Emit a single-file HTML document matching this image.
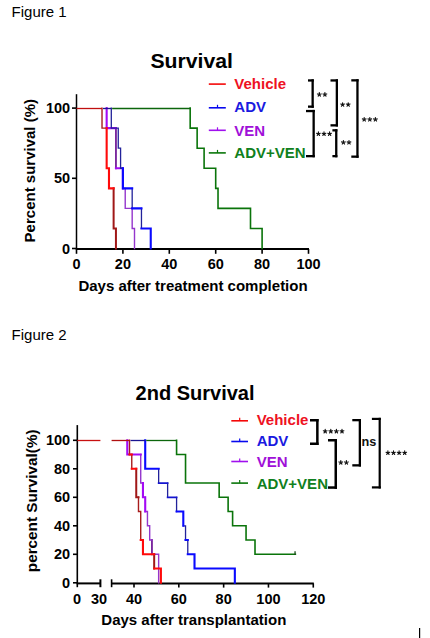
<!DOCTYPE html>
<html><head><meta charset="utf-8"><style>
html,body{margin:0;padding:0;background:#fff;}
svg{display:block;font-family:"Liberation Sans", sans-serif;}
</style></head><body>
<svg width="430" height="638" viewBox="0 0 430 638">
<rect width="430" height="638" fill="#fff"/>
<text x="11.60" y="16.80" font-size="15" font-weight="normal" fill="#000" text-anchor="start" >Figure 1</text>
<text x="150.40" y="67.70" font-size="20" font-weight="bold" fill="#000" text-anchor="start" textLength="82.5" lengthAdjust="spacingAndGlyphs">Survival</text>
<g stroke="#000" stroke-width="1.6" fill="none">
<path d="M76.5 94.2 V248.5" stroke-width="1.5"/>
<path d="M75.8 249 H309" stroke-width="2"/>
<path d="M72 248.50 H76.5"/>
<path d="M72 178.30 H76.5"/>
<path d="M72 108.10 H76.5"/>
<path d="M76.50 249 V253.8"/>
<path d="M122.90 249 V253.8"/>
<path d="M169.30 249 V253.8"/>
<path d="M215.70 249 V253.8"/>
<path d="M262.10 249 V253.8"/>
<path d="M308.50 249 V253.8"/>
</g>
<text x="70.20" y="253.60" font-size="14.5" font-weight="bold" fill="#000" text-anchor="end" >0</text>
<text x="70.20" y="183.40" font-size="14.5" font-weight="bold" fill="#000" text-anchor="end" >50</text>
<text x="70.20" y="113.20" font-size="14.5" font-weight="bold" fill="#000" text-anchor="end" >100</text>
<text x="76.50" y="268.80" font-size="14.5" font-weight="bold" fill="#000" text-anchor="middle" >0</text>
<text x="122.90" y="268.80" font-size="14.5" font-weight="bold" fill="#000" text-anchor="middle" >20</text>
<text x="169.30" y="268.80" font-size="14.5" font-weight="bold" fill="#000" text-anchor="middle" >40</text>
<text x="215.70" y="268.80" font-size="14.5" font-weight="bold" fill="#000" text-anchor="middle" >60</text>
<text x="262.10" y="268.80" font-size="14.5" font-weight="bold" fill="#000" text-anchor="middle" >80</text>
<text x="308.50" y="268.80" font-size="14.5" font-weight="bold" fill="#000" text-anchor="middle" >100</text>
<text x="78.40" y="290.80" font-size="15" font-weight="bold" fill="#000" text-anchor="start" >Days after treatment completion</text>
<text transform="translate(35.2 242.4) rotate(-90)" font-size="15" font-weight="bold" fill="#000">Percent survival (%)</text>
<g fill="none" stroke-width="1.8" stroke-linejoin="miter" stroke-linecap="square">
<path d="M190.18 108.10V128.16M190.18 128.16H197.14M197.14 128.16V148.21M197.14 148.21H204.10M204.10 148.21V168.27M204.10 168.27H215.70M215.70 168.27V188.33M215.70 188.33H218.02M218.02 188.33V208.39M218.02 208.39H250.50M250.50 208.39V228.44M250.50 228.44H262.10M262.10 228.44V248.50" stroke="#0a740a" stroke-width="1.60" fill="none" stroke-linecap="square"/>
<path d="M115.94 128.16V168.27" stroke="#7a289e" stroke-width="1.90" fill="none" stroke-linecap="square"/>
<path d="M122.90 188.33H125.22M125.22 188.33V208.39M125.22 208.39H132.18M132.18 208.39V228.44M132.18 228.44H134.50M134.50 228.44V248.50" stroke="#9436cc" stroke-width="1.40" fill="none" stroke-linecap="square"/>
<path d="M106.66 108.10V128.16M106.66 128.16H115.94M115.94 168.27H122.90M122.90 168.27V188.33" stroke="#a40af5" stroke-width="2.10" fill="none" stroke-linecap="square"/>
<path d="M111.30 108.10V128.16M111.30 128.16H118.26M118.26 128.16V148.21M118.26 148.21H120.58M120.58 148.21V168.27M120.58 168.27H122.90M132.18 188.33V208.39M141.46 208.39V228.44" stroke="#22229a" stroke-width="1.30" fill="none" stroke-linecap="square"/>
<path d="M122.90 168.27V188.33M122.90 188.33H132.18M132.18 208.39H141.46M141.46 228.44H150.74M150.74 228.44V248.50" stroke="#0a0aff" stroke-width="2.10" fill="none" stroke-linecap="square"/>
<path d="M102.02 108.10V128.16M102.02 128.16H106.66" stroke="#a81c1c" stroke-width="1.40" fill="none" stroke-linecap="square"/>
<path d="M113.62 188.33V228.44M113.62 228.44H115.94M115.94 228.44V248.50" stroke="#a01818" stroke-width="2.00" fill="none" stroke-linecap="square"/>
<path d="M106.66 128.16V168.27M106.66 168.27H108.98M108.98 168.27V188.33M108.98 188.33H113.62" stroke="#ff0a0a" stroke-width="2.10" fill="none" stroke-linecap="square"/>
</g>
<g fill="none" stroke-width="1.3">
<path d="M76.50 108.50 H102.02" stroke="#c01010"/>
<path d="M103.02 108.50 H111.30" stroke="#1a1490"/>
<path d="M112.10 108.50 H190.18" stroke="#0c660c"/>
</g>
<path d="M208.8 84.10 H225.8" stroke="#f40808" stroke-width="1.6"/>
<text x="234.30" y="88.80" font-size="15" font-weight="bold" fill="#ee1122" text-anchor="start" >Vehicle</text>
<path d="M208.8 107.80 H225.8" stroke="#0808ee" stroke-width="1.6"/>
<path d="M217.5 104.80 V107.80" stroke="#0808ee" stroke-width="1.2"/>
<text x="234.30" y="111.60" font-size="15" font-weight="bold" fill="#1a1ae0" text-anchor="start" >ADV</text>
<path d="M208.8 130.30 H225.8" stroke="#a010ee" stroke-width="1.6"/>
<path d="M217.5 127.30 V130.30" stroke="#a010ee" stroke-width="1.2"/>
<text x="234.30" y="135.50" font-size="15" font-weight="bold" fill="#a010d8" text-anchor="start" >VEN</text>
<path d="M208.8 152.90 H225.8" stroke="#0a760a" stroke-width="1.6"/>
<path d="M217.5 149.90 V152.90" stroke="#0a760a" stroke-width="1.2"/>
<text x="234.30" y="157.70" font-size="15" font-weight="bold" fill="#108020" text-anchor="start" >ADV+VEN</text>
<rect x="308.00" y="79.30" width="5.80" height="2.30" fill="#000"/>
<rect x="311.50" y="79.30" width="2.30" height="28.50" fill="#000"/>
<rect x="308.00" y="105.50" width="5.80" height="2.30" fill="#000"/>
<rect x="330.50" y="79.30" width="7.50" height="2.30" fill="#000"/>
<rect x="335.70" y="79.30" width="2.30" height="47.20" fill="#000"/>
<rect x="330.50" y="124.20" width="7.50" height="2.30" fill="#000"/>
<rect x="306.00" y="109.90" width="8.80" height="2.30" fill="#000"/>
<rect x="312.50" y="109.90" width="2.30" height="47.40" fill="#000"/>
<rect x="306.00" y="155.00" width="8.80" height="2.30" fill="#000"/>
<rect x="332.40" y="129.20" width="5.00" height="2.30" fill="#000"/>
<rect x="335.10" y="129.20" width="2.30" height="28.10" fill="#000"/>
<rect x="332.40" y="155.00" width="5.00" height="2.30" fill="#000"/>
<rect x="351.30" y="79.20" width="7.30" height="2.30" fill="#000"/>
<rect x="356.30" y="79.20" width="2.30" height="78.60" fill="#000"/>
<rect x="351.30" y="155.50" width="7.30" height="2.30" fill="#000"/>
<path d="M319.30 94.55L319.30 92.60M319.30 94.55L321.15 93.95M319.30 94.55L320.45 96.13M319.30 94.55L318.15 96.13M319.30 94.55L317.45 93.95M324.90 94.55L324.90 92.60M324.90 94.55L326.75 93.95M324.90 94.55L326.05 96.13M324.90 94.55L323.75 96.13M324.90 94.55L323.05 93.95" stroke="#111" stroke-width="1.15" stroke-linecap="round" fill="none"/>
<path d="M342.60 104.65L342.60 102.70M342.60 104.65L344.45 104.05M342.60 104.65L343.75 106.23M342.60 104.65L341.45 106.23M342.60 104.65L340.75 104.05M348.20 104.65L348.20 102.70M348.20 104.65L350.05 104.05M348.20 104.65L349.35 106.23M348.20 104.65L347.05 106.23M348.20 104.65L346.35 104.05" stroke="#111" stroke-width="1.15" stroke-linecap="round" fill="none"/>
<path d="M318.40 133.85L318.40 131.90M318.40 133.85L320.25 133.25M318.40 133.85L319.55 135.43M318.40 133.85L317.25 135.43M318.40 133.85L316.55 133.25M324.00 133.85L324.00 131.90M324.00 133.85L325.85 133.25M324.00 133.85L325.15 135.43M324.00 133.85L322.85 135.43M324.00 133.85L322.15 133.25M329.60 133.85L329.60 131.90M329.60 133.85L331.45 133.25M329.60 133.85L330.75 135.43M329.60 133.85L328.45 135.43M329.60 133.85L327.75 133.25" stroke="#111" stroke-width="1.15" stroke-linecap="round" fill="none"/>
<path d="M343.40 142.45L343.40 140.50M343.40 142.45L345.25 141.85M343.40 142.45L344.55 144.03M343.40 142.45L342.25 144.03M343.40 142.45L341.55 141.85M349.00 142.45L349.00 140.50M349.00 142.45L350.85 141.85M349.00 142.45L350.15 144.03M349.00 142.45L347.85 144.03M349.00 142.45L347.15 141.85" stroke="#111" stroke-width="1.15" stroke-linecap="round" fill="none"/>
<path d="M364.20 119.45L364.20 117.50M364.20 119.45L366.05 118.85M364.20 119.45L365.35 121.03M364.20 119.45L363.05 121.03M364.20 119.45L362.35 118.85M369.80 119.45L369.80 117.50M369.80 119.45L371.65 118.85M369.80 119.45L370.95 121.03M369.80 119.45L368.65 121.03M369.80 119.45L367.95 118.85M375.40 119.45L375.40 117.50M375.40 119.45L377.25 118.85M375.40 119.45L376.55 121.03M375.40 119.45L374.25 121.03M375.40 119.45L373.55 118.85" stroke="#111" stroke-width="1.15" stroke-linecap="round" fill="none"/>
<text x="11.60" y="339.90" font-size="15" font-weight="normal" fill="#000" text-anchor="start" >Figure 2</text>
<text x="135.60" y="400.00" font-size="20" font-weight="bold" fill="#000" text-anchor="start" >2nd Survival</text>
<g stroke="#000" stroke-width="1.6" fill="none">
<path d="M77.3 425.1 V587.2"/>
<path d="M76.6 583.4 H100.4" stroke-width="2"/>
<path d="M111.6 583.4 H313.8" stroke-width="2"/>
<path d="M100.4 579.3 V587.2" stroke-width="2"/>
<path d="M111.6 579.3 V587.2"/>
<path d="M73 582.80 H77.3"/>
<path d="M73 554.30 H77.3"/>
<path d="M73 525.80 H77.3"/>
<path d="M73 497.30 H77.3"/>
<path d="M73 468.80 H77.3"/>
<path d="M73 440.30 H77.3"/>
<path d="M134.00 583.4 V587.6"/>
<path d="M178.82 583.4 V587.6"/>
<path d="M223.64 583.4 V587.6"/>
<path d="M268.46 583.4 V587.6"/>
<path d="M313.28 583.4 V587.6"/>
</g>
<text x="70.20" y="587.90" font-size="14.5" font-weight="bold" fill="#000" text-anchor="end" >0</text>
<text x="70.20" y="559.40" font-size="14.5" font-weight="bold" fill="#000" text-anchor="end" >20</text>
<text x="70.20" y="530.90" font-size="14.5" font-weight="bold" fill="#000" text-anchor="end" >40</text>
<text x="70.20" y="502.40" font-size="14.5" font-weight="bold" fill="#000" text-anchor="end" >60</text>
<text x="70.20" y="473.90" font-size="14.5" font-weight="bold" fill="#000" text-anchor="end" >80</text>
<text x="70.20" y="445.40" font-size="14.5" font-weight="bold" fill="#000" text-anchor="end" >100</text>
<text x="77.00" y="603.60" font-size="14.5" font-weight="bold" fill="#000" text-anchor="middle" >0</text>
<text x="99.00" y="603.60" font-size="14.5" font-weight="bold" fill="#000" text-anchor="middle" >30</text>
<text x="134.00" y="603.60" font-size="14.5" font-weight="bold" fill="#000" text-anchor="middle" >40</text>
<text x="178.82" y="603.60" font-size="14.5" font-weight="bold" fill="#000" text-anchor="middle" >60</text>
<text x="223.64" y="603.60" font-size="14.5" font-weight="bold" fill="#000" text-anchor="middle" >80</text>
<text x="268.46" y="603.60" font-size="14.5" font-weight="bold" fill="#000" text-anchor="middle" >100</text>
<text x="313.28" y="603.60" font-size="14.5" font-weight="bold" fill="#000" text-anchor="middle" >120</text>
<text x="101.30" y="624.90" font-size="15" font-weight="bold" fill="#000" text-anchor="start" >Days after transplantation</text>
<text transform="translate(36.8 572.2) rotate(-90)" font-size="15.3" font-weight="bold" fill="#000">percent Survival(%)</text>
<g fill="none" stroke-width="1.8" stroke-linejoin="miter" stroke-linecap="square">
<path d="M176.58 440.30V454.55M176.58 454.55H185.54M185.54 454.55V483.05M185.54 483.05H219.16M219.16 483.05V497.30M219.16 497.30H228.12M228.12 497.30V511.55M228.12 511.55H232.60M232.60 511.55V525.80M232.60 525.80H246.05M246.05 525.80V540.05M246.05 540.05H255.01M255.01 540.05V554.30M255.01 554.30H295.35" stroke="#0a740a" stroke-width="1.60" fill="none" stroke-linecap="square"/>
<path d="M295.05 554.30 V551.90" stroke="#1a4a1a" stroke-width="1.3"/>
<path d="M151.93 540.05V554.30" stroke="#7a289e" stroke-width="1.90" fill="none" stroke-linecap="square"/>
<path d="M140.72 454.55V483.05M140.72 483.05H142.96M142.96 497.30H145.21M145.21 511.55H147.45M147.45 511.55V525.80M147.45 525.80H149.69M149.69 525.80V540.05M149.69 540.05H151.93M151.93 554.30H158.65M158.65 554.30V582.80" stroke="#9436cc" stroke-width="1.40" fill="none" stroke-linecap="square"/>
<path d="M127.28 440.30V454.55M127.28 454.55H140.72M142.96 483.05V497.30M145.21 497.30V511.55" stroke="#a40af5" stroke-width="2.10" fill="none" stroke-linecap="square"/>
<path d="M158.65 468.80V483.05M167.62 483.05V497.30M176.58 497.30V511.55M183.30 525.80H185.54M185.54 525.80V540.05M187.78 540.05V554.30" stroke="#22229a" stroke-width="1.30" fill="none" stroke-linecap="square"/>
<path d="M158.65 483.05H167.62M167.62 497.30H176.58" stroke="#1414d0" stroke-width="1.70" fill="none" stroke-linecap="square"/>
<path d="M145.21 440.30V468.80M145.21 468.80H158.65M176.58 511.55H183.30M183.30 511.55V525.80M185.54 540.05H187.78M187.78 554.30H194.51M194.51 554.30V568.55M194.51 568.55H234.84M234.84 568.55V582.80" stroke="#0a0aff" stroke-width="2.10" fill="none" stroke-linecap="square"/>
<path d="M129.52 440.30V454.55M131.76 454.55V468.80M138.48 497.30V511.55M138.48 511.55H140.72M140.72 511.55V540.05" stroke="#a81c1c" stroke-width="1.40" fill="none" stroke-linecap="square"/>
<path d="M136.24 468.80V497.30M136.24 497.30H138.48M154.17 554.30V568.55" stroke="#a01818" stroke-width="2.00" fill="none" stroke-linecap="square"/>
<path d="M129.52 454.55H131.76M131.76 468.80H136.24M140.72 540.05H142.96M142.96 540.05V554.30M142.96 554.30H154.17M154.17 568.55H160.89M160.89 568.55V582.80" stroke="#ff0a0a" stroke-width="2.10" fill="none" stroke-linecap="square"/>
</g>
<g fill="none" stroke-width="1.3">
<path d="M77.3 440.50 H100.4" stroke="#c81010"/>
<path d="M111.59 440.50 H129.52" stroke="#b01010"/>
<path d="M130.52 440.50 H145.21" stroke="#1a1490"/>
<path d="M146.21 440.50 H176.58" stroke="#0c660c"/>
</g>
<path d="M231.3 420.80 H248" stroke="#f40808" stroke-width="1.6"/>
<path d="M239.7 417.80 V420.80" stroke="#f40808" stroke-width="1.2"/>
<text x="256.70" y="424.90" font-size="15" font-weight="bold" fill="#ee1122" text-anchor="start" >Vehicle</text>
<path d="M231.3 441.50 H248" stroke="#0808ee" stroke-width="1.6"/>
<path d="M239.7 438.50 V441.50" stroke="#0808ee" stroke-width="1.2"/>
<text x="256.70" y="446.10" font-size="15" font-weight="bold" fill="#1a1ae0" text-anchor="start" >ADV</text>
<path d="M231.3 461.50 H248" stroke="#a010ee" stroke-width="1.6"/>
<path d="M239.7 458.50 V461.50" stroke="#a010ee" stroke-width="1.2"/>
<text x="256.70" y="467.40" font-size="15" font-weight="bold" fill="#a010d8" text-anchor="start" >VEN</text>
<path d="M231.3 483.10 H248" stroke="#0a760a" stroke-width="1.6"/>
<path d="M239.7 480.10 V483.10" stroke="#0a760a" stroke-width="1.2"/>
<text x="256.70" y="488.70" font-size="15" font-weight="bold" fill="#108020" text-anchor="start" >ADV+VEN</text>
<rect x="310.00" y="419.00" width="8.60" height="2.50" fill="#000"/>
<rect x="316.10" y="419.00" width="2.50" height="26.00" fill="#000"/>
<rect x="310.00" y="442.50" width="8.60" height="2.50" fill="#000"/>
<rect x="328.00" y="439.00" width="9.00" height="2.50" fill="#000"/>
<rect x="334.50" y="439.00" width="2.50" height="49.80" fill="#000"/>
<rect x="328.00" y="486.30" width="9.00" height="2.50" fill="#000"/>
<rect x="352.30" y="419.00" width="8.70" height="2.30" fill="#000"/>
<rect x="358.70" y="419.00" width="2.30" height="47.50" fill="#000"/>
<rect x="352.30" y="464.20" width="8.70" height="2.30" fill="#000"/>
<rect x="371.90" y="417.80" width="8.90" height="2.20" fill="#000"/>
<rect x="378.60" y="417.80" width="2.20" height="70.70" fill="#000"/>
<rect x="371.90" y="486.30" width="8.90" height="2.20" fill="#000"/>
<path d="M325.20 431.35L325.20 429.40M325.20 431.35L327.05 430.75M325.20 431.35L326.35 432.93M325.20 431.35L324.05 432.93M325.20 431.35L323.35 430.75M330.80 431.35L330.80 429.40M330.80 431.35L332.65 430.75M330.80 431.35L331.95 432.93M330.80 431.35L329.65 432.93M330.80 431.35L328.95 430.75M336.40 431.35L336.40 429.40M336.40 431.35L338.25 430.75M336.40 431.35L337.55 432.93M336.40 431.35L335.25 432.93M336.40 431.35L334.55 430.75M342.00 431.35L342.00 429.40M342.00 431.35L343.85 430.75M342.00 431.35L343.15 432.93M342.00 431.35L340.85 432.93M342.00 431.35L340.15 430.75" stroke="#111" stroke-width="1.15" stroke-linecap="round" fill="none"/>
<path d="M340.80 462.55L340.80 460.60M340.80 462.55L342.65 461.95M340.80 462.55L341.95 464.13M340.80 462.55L339.65 464.13M340.80 462.55L338.95 461.95M346.40 462.55L346.40 460.60M346.40 462.55L348.25 461.95M346.40 462.55L347.55 464.13M346.40 462.55L345.25 464.13M346.40 462.55L344.55 461.95" stroke="#111" stroke-width="1.15" stroke-linecap="round" fill="none"/>
<path d="M387.90 452.85L387.90 450.90M387.90 452.85L389.75 452.25M387.90 452.85L389.05 454.43M387.90 452.85L386.75 454.43M387.90 452.85L386.05 452.25M393.50 452.85L393.50 450.90M393.50 452.85L395.35 452.25M393.50 452.85L394.65 454.43M393.50 452.85L392.35 454.43M393.50 452.85L391.65 452.25M399.10 452.85L399.10 450.90M399.10 452.85L400.95 452.25M399.10 452.85L400.25 454.43M399.10 452.85L397.95 454.43M399.10 452.85L397.25 452.25M404.70 452.85L404.70 450.90M404.70 452.85L406.55 452.25M404.70 452.85L405.85 454.43M404.70 452.85L403.55 454.43M404.70 452.85L402.85 452.25" stroke="#111" stroke-width="1.15" stroke-linecap="round" fill="none"/>
<text x="361.56" y="445.50" font-size="12.7" font-weight="bold" fill="#111" text-anchor="start" >ns</text>
<rect x="419" y="628" width="1.2" height="10" fill="#000"/>
</svg>
</body></html>
